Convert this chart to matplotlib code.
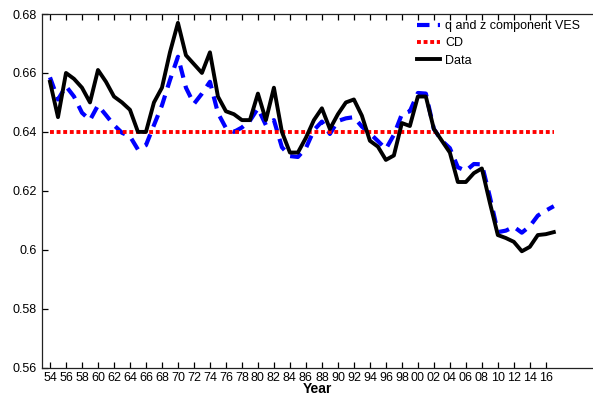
import numpy as np
import matplotlib
matplotlib.use('Agg')
import matplotlib.pyplot as plt
from matplotlib.ticker import FuncFormatter

plt.rcParams['font.family'] = 'Liberation Sans'
plt.rcParams['font.size'] = 9

# Data
years = np.arange(1954, 2018)

data = [0.657, 0.645, 0.660, 0.658, 0.655, 0.650, 0.661, 0.657, 0.652, 0.650,
        0.6475, 0.640, 0.640, 0.650, 0.655, 0.667, 0.677, 0.666, 0.663, 0.660,
        0.667, 0.652, 0.647, 0.646, 0.644, 0.644, 0.653, 0.644, 0.655, 0.640,
        0.633, 0.633, 0.638, 0.644, 0.648, 0.641, 0.646, 0.650, 0.651, 0.6455,
        0.637, 0.635, 0.6305, 0.632, 0.643, 0.642, 0.652, 0.652, 0.641, 0.637,
        0.633, 0.623, 0.623, 0.626, 0.6276, 0.616, 0.605, 0.604, 0.6027, 0.5995,
        0.601, 0.605, 0.6053, 0.606]

ves = [0.6585, 0.651, 0.6555, 0.652, 0.6465, 0.644, 0.649, 0.6457, 0.6423, 0.6397,
       0.6385, 0.634, 0.6355, 0.6423, 0.649, 0.6576, 0.6655, 0.655, 0.6495, 0.653,
       0.657, 0.6464, 0.6413, 0.640, 0.6415, 0.6438, 0.648, 0.6423, 0.644, 0.6348,
       0.6318, 0.6315, 0.6345, 0.6406, 0.6435, 0.6393, 0.6437, 0.6446, 0.645, 0.6418,
       0.6395, 0.6369, 0.6342, 0.639, 0.646, 0.647, 0.6532, 0.653, 0.641, 0.637,
       0.6345, 0.628, 0.6268, 0.6291, 0.629, 0.618, 0.606, 0.6065, 0.6078, 0.6058,
       0.608, 0.6116, 0.6133, 0.6148]

cd_value = 0.64

xtick_years = np.arange(1954, 2018, 2)
xtick_labels = ['%02d' % (y % 100) for y in xtick_years]
yticks = [0.56, 0.58, 0.60, 0.62, 0.64, 0.66, 0.68]

fig = plt.figure(figsize=(5.93, 3.99), dpi=100)
ax = fig.add_axes([42 / 593, 1 - 367.7 / 399, 1 - 42 / 593, (367.7 - 14) / 399])

ax.plot(years, ves, color='#0000ff', lw=3, linestyle=(0, (3.0, 2.0)),
        label='q and z component VES')
ax.plot(years, np.full(len(years), cd_value), color='#ff0000', lw=2.8,
        linestyle=(0, (1.0, 0.7)), label='CD')
ax.plot(years, data, color='black', lw=2.8, label='Data')

ax.set_xlim(1953, 2021.9)
ax.set_ylim(0.56, 0.68)
ax.set_xticks(xtick_years)
ax.set_xticklabels(xtick_labels)
ax.set_yticks(yticks)
ax.yaxis.set_major_formatter(FuncFormatter(lambda v, p: '%g' % round(v, 2)))

ax.tick_params(axis='x', direction='in', length=4, width=0.9, top=True, pad=3)
ax.tick_params(axis='y', direction='in', length=4, width=0.9, right=False, pad=4)
ax.spines['right'].set_visible(False)
for s in ['left', 'bottom', 'top']:
    ax.spines[s].set_linewidth(0.9)
    ax.spines[s].set_color('#222222')

ax.set_xlabel('Year', fontweight='bold', fontsize=10, labelpad=-1)

ax.legend(loc='upper left', bbox_to_anchor=(417 / 593, 1 - 20 / 399),
          bbox_transform=fig.transFigure, frameon=False, borderpad=0,
          borderaxespad=0, handlelength=1.8, handletextpad=0.45,
          labelspacing=0.42, fontsize=9)

plt.savefig('out.png', dpi=100)
